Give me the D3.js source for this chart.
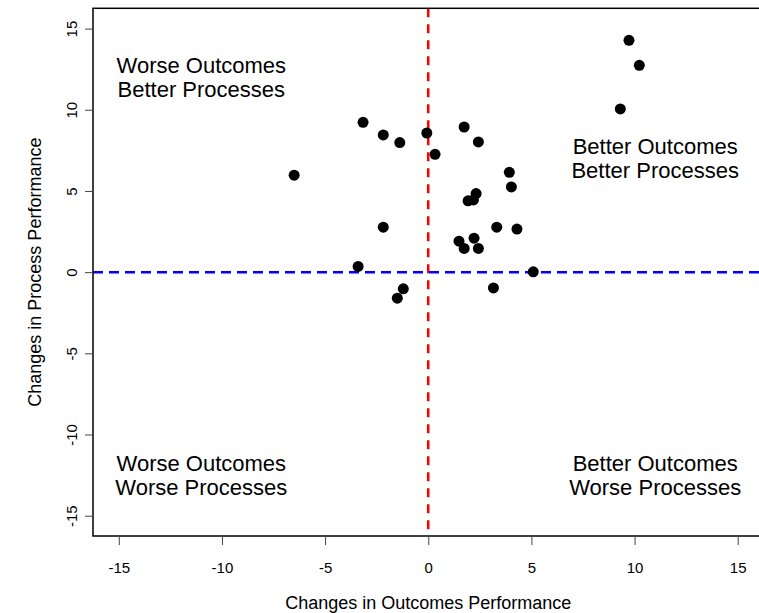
<!DOCTYPE html>
<html>
<head>
<meta charset="utf-8">
<script src="https://cdn.jsdelivr.net/npm/d3@7"></script>
<style>
  body { margin: 0; background: #fff; }
  svg { display: block; font-family: "Liberation Sans", Arial, sans-serif; }
</style>
</head>
<body>
<svg id="chart"></svg>
<script>
// change in outcomes (x) and change in processes (y), one entry per unit
const outcomeChange = [-3.16, -2.18, -1.38, -0.07, 0.33, -6.5, 1.74, 2.43, 3.93, 4.03,
  2.32, 1.93, 2.19, -2.18, 3.32, 4.3, 1.49, 1.74, 2.22, 2.43,
  -3.4, 5.09, -1.21, -1.5, 3.16, 9.73, 10.23, 9.31];
const processChange = [9.23, 8.45, 7.98, 8.57, 7.26, 5.97, 8.94, 8.02, 6.15, 5.25,
  4.84, 4.39, 4.45, 2.77, 2.77, 2.65, 1.91, 1.46, 2.09, 1.46,
  0.35, 0.02, -1.03, -1.6, -0.97, 14.28, 12.74, 10.05];

const xTicks = [-15, -10, -5, 0, 5, 10, 15];
const yTicks = [-15, -10, -5, 0, 5, 10, 15];

// quadrant captions: [x, y, line1, line2]
const quadrantLabels = [
  [-11, 12, 'Worse Outcomes', 'Better Processes'],
  [11, 7, 'Better Outcomes', 'Better Processes'],
  [-11, -12.5, 'Worse Outcomes', 'Worse Processes'],
  [11, -12.5, 'Better Outcomes', 'Worse Processes'],
];

const width = 759, height = 613;
const svg = d3.select('#chart').attr('width', width).attr('height', height);

// plot box edges at +/-16.25 data units
const x = d3.scaleLinear().domain([-16.25, 16.25]).range([93, 763.5]);
const y = d3.scaleLinear().domain([-16.25, 16.25]).range([536, 8.3]);

const points = outcomeChange.map((v, i) => ({ x: v, y: processChange[i] }));

// reference lines
svg.append('line')
  .attr('x1', x(0)).attr('x2', x(0))
  .attr('y1', y.range()[1]).attr('y2', y.range()[0])
  .attr('stroke', '#ff0000').attr('stroke-width', 2.5)
  .attr('stroke-dasharray', '9,7');

svg.append('line')
  .attr('x1', x.range()[0]).attr('x2', x.range()[1])
  .attr('y1', y(0)).attr('y2', y(0))
  .attr('stroke', '#0000ff').attr('stroke-width', 2.5)
  .attr('stroke-dasharray', '10,6');

svg.selectAll('circle.pt')
  .data(points)
  .enter()
  .append('circle')
  .attr('class', 'pt')
  .attr('cx', d => x(d.x))
  .attr('cy', d => y(d.y))
  .attr('r', 5.5)
  .attr('fill', '#000');

// box
svg.append('rect')
  .attr('x', x.range()[0]).attr('y', y.range()[1])
  .attr('width', x.range()[1] - x.range()[0])
  .attr('height', y.range()[0] - y.range()[1])
  .attr('fill', 'none').attr('stroke', '#000').attr('stroke-width', 1.5);

// axes (plain hyphen minus like the original)
const fmt = d => String(d);
const xAxis = svg.append('g')
  .attr('transform', `translate(0,${y.range()[0]})`)
  .call(d3.axisBottom(x).tickValues(xTicks).tickFormat(fmt).tickSize(9).tickPadding(17));
const yAxis = svg.append('g')
  .attr('transform', `translate(${x.range()[0]},0)`)
  .call(d3.axisLeft(y).tickValues(yTicks).tickFormat(fmt).tickSize(8));

[xAxis, yAxis].forEach(g => {
  g.select('.domain').remove();
  g.selectAll('.tick line').attr('stroke', '#444');
  g.selectAll('.tick text')
    .attr('font-size', 15)
    .attr('font-family', '"Liberation Sans", Arial, sans-serif')
    .attr('fill', '#000');
});

yAxis.selectAll('.tick text')
  .attr('x', null).attr('dy', null)
  .attr('text-anchor', 'middle')
  .attr('dominant-baseline', 'central')
  .attr('transform', 'translate(-22,0) rotate(-90)');

// axis titles
svg.append('text')
  .attr('x', x(0)).attr('y', 603)
  .attr('text-anchor', 'middle').attr('dominant-baseline', 'central')
  .attr('font-size', 18)
  .text('Changes in Outcomes Performance');

svg.append('text')
  .attr('transform', `translate(35,${(y.range()[0] + y.range()[1]) / 2}) rotate(-90)`)
  .attr('text-anchor', 'middle').attr('dominant-baseline', 'central')
  .attr('font-size', 18)
  .text('Changes in Process Performance');

// quadrant captions
quadrantLabels.forEach(([qx, qy, a, b]) => {
  const t = svg.append('text')
    .attr('x', x(qx)).attr('y', y(qy))
    .attr('text-anchor', 'middle')
    .attr('font-size', 22);
  t.append('tspan').attr('x', x(qx)).attr('dy', -12).attr('dominant-baseline', 'central').text(a);
  t.append('tspan').attr('x', x(qx)).attr('dy', 24).attr('dominant-baseline', 'central').text(b);
});
</script>
</body>
</html>
